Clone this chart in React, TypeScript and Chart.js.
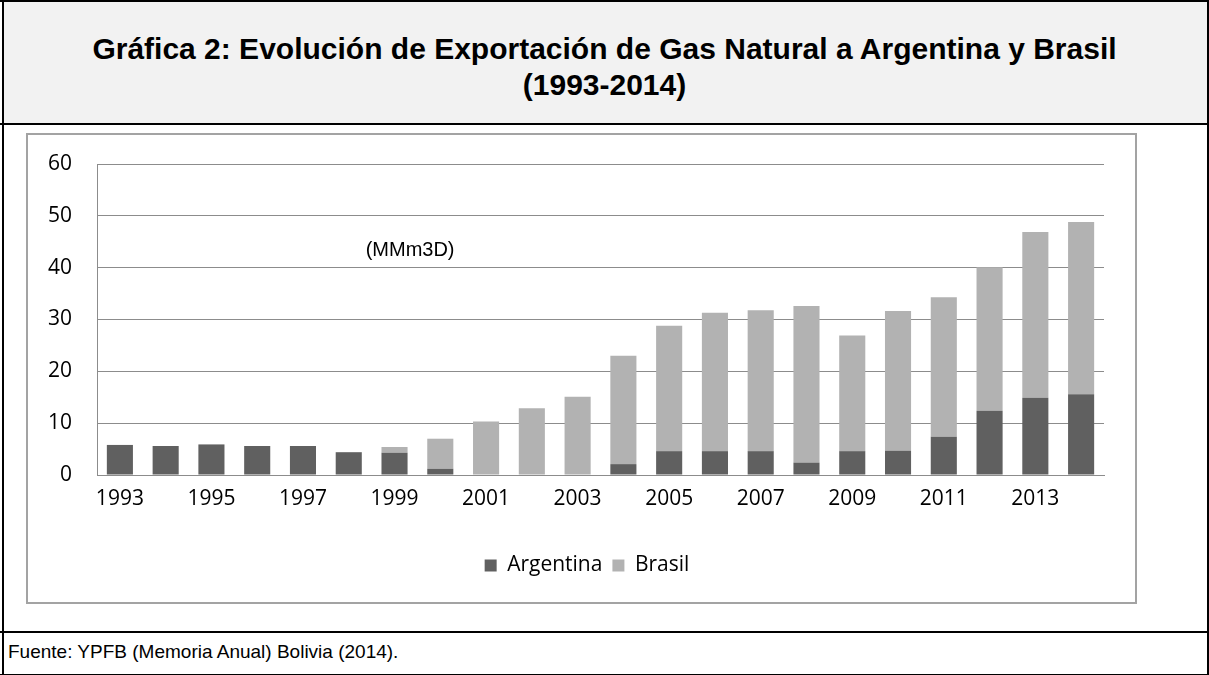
import React, { useEffect, useRef } from 'react';
import { Chart, registerables } from 'chart.js';

Chart.register(...registerables);

const years = ['1993', '1994', '1995', '1996', '1997', '1998', '1999', '2000', '2001', '2002', '2003', '2004', '2005', '2006', '2007', '2008', '2009', '2010', '2011', '2012', '2013', '2014'];
const argentina = [5.8, 5.6, 5.9, 5.6, 5.6, 4.4, 4.3, 1.2, 0, 0, 0, 2.1, 4.6, 4.6, 4.6, 2.4, 4.6, 4.65, 7.4, 12.4, 14.9, 15.6];
const brasil = [0, 0, 0, 0, 0, 0, 1.1, 5.8, 10.3, 12.9, 15.1, 20.9, 24.2, 26.7, 27.2, 30.2, 22.3, 27.0, 26.9, 27.7, 32.0, 33.2];
const seriesNames = ['Argentina', 'Brasil'];
const yMin = 0;
const yMax = 60;
const yStep = 10;
const unitLabel = '(MMm3D)';
const unitAt = { index: 6.34, value: 43.4 };
const titleLine1 = 'Gráfica 2: Evolución de Exportación de Gas Natural a Argentina y Brasil';
const titleLine2 = '(1993-2014)';
const sourceText = 'Fuente: YPFB (Memoria Anual) Bolivia (2014).';

const tickFont = "'Open Sans', 'DejaVu Sans', sans-serif";

const unitPlugin = {
  id: 'unitLabel',
  afterDatasetsDraw(chart: any) {
    const { ctx, scales } = chart;
    const x = scales.x.getPixelForValue(unitAt.index);
    const y = scales.y.getPixelForValue(unitAt.value);
    ctx.save();
    ctx.font = "20px 'Liberation Sans', Arial, sans-serif";
    ctx.fillStyle = '#000';
    ctx.textAlign = 'center';
    ctx.textBaseline = 'middle';
    ctx.fillText(unitLabel, x, y);
    ctx.restore();
  },
};

const legendShift = {
  id: 'legendShift',
  afterLayout(chart: any) {
    if (chart.legend) {
      chart.legend.left += 21;
      chart.legend.right += 21;
    }
  },
};

function BarChart() {
  const ref = useRef<HTMLCanvasElement | null>(null);
  useEffect(() => {
    if (!ref.current) return;
    const chart = new Chart(ref.current, {
      type: 'bar',
      data: {
        labels: years,
        datasets: [
          {
            label: seriesNames[0],
            data: argentina,
            backgroundColor: '#606060',
            borderWidth: 0,
            barPercentage: 0.57,
            categoryPercentage: 1,
          },
          {
            label: seriesNames[1],
            data: brasil,
            backgroundColor: '#b2b2b2',
            borderWidth: 0,
            barPercentage: 0.57,
            categoryPercentage: 1,
          },
        ],
      },
      options: {
        animation: false,
        responsive: false,
        maintainAspectRatio: false,
        layout: { padding: { left: 0, right: 31, top: 29, bottom: 16 } },
        plugins: {
          legend: {
            position: 'bottom',
            labels: {
              boxWidth: 12,
              boxHeight: 12,
              padding: 10,
              color: '#000',
              font: { family: tickFont, size: 21 },
            },
          },
          tooltip: { enabled: false },
          title: { display: false },
        },
        scales: {
          x: {
            stacked: true,
            grid: { display: false, drawTicks: false },
            border: { display: true, color: '#8c8c8c', width: 1 },
            ticks: {
              autoSkip: false,
              maxRotation: 0,
              padding: 11,
              color: '#000',
              font: { family: tickFont, size: 21 },
              callback: (_v: any, i: number) => (i % 2 === 0 ? years[i] : ''),
            },
            afterFit: (s: any) => { s.height = 70; },
          },
          y: {
            stacked: true,
            min: yMin,
            max: yMax,
            ticks: {
              stepSize: yStep,
              padding: 25,
              color: '#000',
              font: { family: tickFont, size: 21 },
            },
            grid: { color: '#8c8c8c', lineWidth: 1, drawTicks: false },
            border: { display: true, color: '#8c8c8c', width: 1 },
            afterFit: (s: any) => {
              s.width = 69;
              s.paddingTop = 12;
              s.paddingBottom = 12;
            },
          },
        },
      },
      plugins: [unitPlugin, legendShift],
    });
    return () => chart.destroy();
  }, []);
  return <canvas ref={ref} width={1107} height={467} style={{ display: 'block', width: 1107, height: 467 }} />;
}

export default function App() {
  return (
    <div style={{ position: 'absolute', left: 0, top: 0, width: 1209, height: 675, background: '#fff', overflow: 'hidden' }}>
      {/* title band */}
      <div style={{ position: 'absolute', left: 2, top: 0, width: 1206, height: 123, background: '#f2f2f2' }} />
      <div style={{ position: 'absolute', left: 0, top: 31, width: 1209, textAlign: 'center', fontFamily: "'Liberation Sans', Arial, sans-serif", fontWeight: 'bold', fontSize: 30, lineHeight: '36px', color: '#000' }}>
        <div>{titleLine1}</div>
        <div>{titleLine2}</div>
      </div>
      {/* frame lines */}
      <div style={{ position: 'absolute', left: 0, top: 0, width: 1209, height: 2, background: '#000' }} />
      <div style={{ position: 'absolute', left: 2, top: 0, width: 2, height: 675, background: '#000' }} />
      <div style={{ position: 'absolute', left: 1207, top: 0, width: 2, height: 675, background: '#000' }} />
      <div style={{ position: 'absolute', left: 0, top: 123, width: 1209, height: 2, background: '#000' }} />
      <div style={{ position: 'absolute', left: 0, top: 631, width: 1209, height: 2, background: '#000' }} />
      <div style={{ position: 'absolute', left: 0, top: 674, width: 1209, height: 1, background: '#000' }} />
      {/* chart box */}
      <div style={{ position: 'absolute', left: 26, top: 133, width: 1111, height: 471, border: '2px solid #a3a3a3', boxSizing: 'border-box', background: '#fff' }}>
        <BarChart />
      </div>
      {/* source */}
      <div style={{ position: 'absolute', left: 8, top: 641, fontFamily: "'Liberation Sans', Arial, sans-serif", fontSize: 19, lineHeight: '22px', color: '#000' }}>{sourceText}</div>
    </div>
  );
}
